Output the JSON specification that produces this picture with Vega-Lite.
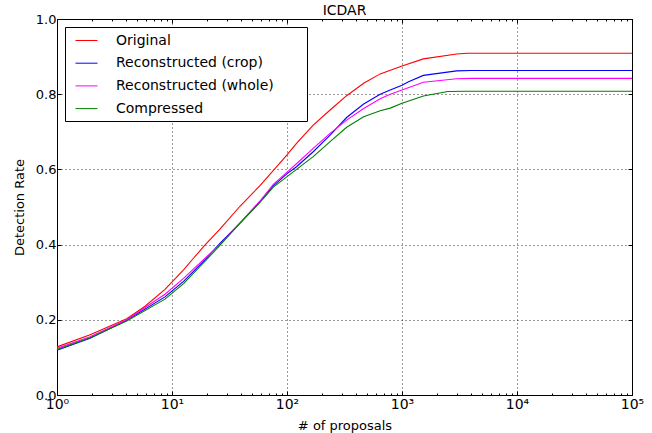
{
  "$schema": "https://vega.github.io/schema/vega-lite/v6.json",
  "width": 575,
  "height": 376,
  "autosize": "none",
  "padding": {"left": 57, "top": 19, "right": 20, "bottom": 38},
  "background": "white",
  "title": {"text": "ICDAR", "fontSize": 14, "font": "DejaVu Sans", "fontWeight": "normal", "color": "black", "offset": -5},
  "config": {
    "font": "DejaVu Sans",
    "view": {"stroke": "black", "strokeWidth": 1},
    "axis": {"domainColor": "black", "tickColor": "black", "labelColor": "black", "titleColor": "black", "labelFont": "DejaVu Sans", "titleFont": "DejaVu Sans", "labelFontSize": 13, "titleFontSize": 13, "titleFontWeight": "normal"}
  },
  "datasets": {
    "curves": [
      {"n": 1, "rate": 0.128, "method": "Original"},
      {"n": 1.94, "rate": 0.160, "method": "Original"},
      {"n": 4.04, "rate": 0.203, "method": "Original"},
      {"n": 5.83, "rate": 0.236, "method": "Original"},
      {"n": 8.69, "rate": 0.281, "method": "Original"},
      {"n": 12.6, "rate": 0.333, "method": "Original"},
      {"n": 15.3, "rate": 0.363, "method": "Original"},
      {"n": 19.4, "rate": 0.399, "method": "Original"},
      {"n": 26.1, "rate": 0.441, "method": "Original"},
      {"n": 39, "rate": 0.502, "method": "Original"},
      {"n": 58.2, "rate": 0.557, "method": "Original"},
      {"n": 78.6, "rate": 0.602, "method": "Original"},
      {"n": 99.6, "rate": 0.638, "method": "Original"},
      {"n": 121, "rate": 0.669, "method": "Original"},
      {"n": 169, "rate": 0.718, "method": "Original"},
      {"n": 237, "rate": 0.758, "method": "Original"},
      {"n": 330, "rate": 0.796, "method": "Original"},
      {"n": 464, "rate": 0.829, "method": "Original"},
      {"n": 646, "rate": 0.854, "method": "Original"},
      {"n": 1000, "rate": 0.875, "method": "Original"},
      {"n": 1535, "rate": 0.894, "method": "Original"},
      {"n": 2990, "rate": 0.907, "method": "Original"},
      {"n": 3690, "rate": 0.909, "method": "Original"},
      {"n": 100000, "rate": 0.909, "method": "Original"},

      {"n": 1, "rate": 0.119, "method": "Reconstructed (crop)"},
      {"n": 1.94, "rate": 0.151, "method": "Reconstructed (crop)"},
      {"n": 4.04, "rate": 0.199, "method": "Reconstructed (crop)"},
      {"n": 8.69, "rate": 0.261, "method": "Reconstructed (crop)"},
      {"n": 12.6, "rate": 0.302, "method": "Reconstructed (crop)"},
      {"n": 19.4, "rate": 0.360, "method": "Reconstructed (crop)"},
      {"n": 26.1, "rate": 0.403, "method": "Reconstructed (crop)"},
      {"n": 39, "rate": 0.457, "method": "Reconstructed (crop)"},
      {"n": 58.2, "rate": 0.514, "method": "Reconstructed (crop)"},
      {"n": 76, "rate": 0.556, "method": "Reconstructed (crop)"},
      {"n": 99.6, "rate": 0.588, "method": "Reconstructed (crop)"},
      {"n": 121, "rate": 0.607, "method": "Reconstructed (crop)"},
      {"n": 169, "rate": 0.647, "method": "Reconstructed (crop)"},
      {"n": 237, "rate": 0.691, "method": "Reconstructed (crop)"},
      {"n": 330, "rate": 0.738, "method": "Reconstructed (crop)"},
      {"n": 464, "rate": 0.774, "method": "Reconstructed (crop)"},
      {"n": 646, "rate": 0.800, "method": "Reconstructed (crop)"},
      {"n": 790, "rate": 0.811, "method": "Reconstructed (crop)"},
      {"n": 1000, "rate": 0.824, "method": "Reconstructed (crop)"},
      {"n": 1140, "rate": 0.833, "method": "Reconstructed (crop)"},
      {"n": 1535, "rate": 0.850, "method": "Reconstructed (crop)"},
      {"n": 2990, "rate": 0.862, "method": "Reconstructed (crop)"},
      {"n": 4000, "rate": 0.863, "method": "Reconstructed (crop)"},
      {"n": 100000, "rate": 0.863, "method": "Reconstructed (crop)"},

      {"n": 1, "rate": 0.124, "method": "Reconstructed (whole)"},
      {"n": 1.94, "rate": 0.155, "method": "Reconstructed (whole)"},
      {"n": 4.04, "rate": 0.200, "method": "Reconstructed (whole)"},
      {"n": 8.69, "rate": 0.268, "method": "Reconstructed (whole)"},
      {"n": 12.6, "rate": 0.310, "method": "Reconstructed (whole)"},
      {"n": 19.4, "rate": 0.364, "method": "Reconstructed (whole)"},
      {"n": 26.1, "rate": 0.400, "method": "Reconstructed (whole)"},
      {"n": 39, "rate": 0.457, "method": "Reconstructed (whole)"},
      {"n": 58.2, "rate": 0.516, "method": "Reconstructed (whole)"},
      {"n": 76, "rate": 0.560, "method": "Reconstructed (whole)"},
      {"n": 99.6, "rate": 0.592, "method": "Reconstructed (whole)"},
      {"n": 121, "rate": 0.615, "method": "Reconstructed (whole)"},
      {"n": 169, "rate": 0.656, "method": "Reconstructed (whole)"},
      {"n": 237, "rate": 0.696, "method": "Reconstructed (whole)"},
      {"n": 330, "rate": 0.731, "method": "Reconstructed (whole)"},
      {"n": 464, "rate": 0.762, "method": "Reconstructed (whole)"},
      {"n": 646, "rate": 0.788, "method": "Reconstructed (whole)"},
      {"n": 790, "rate": 0.800, "method": "Reconstructed (whole)"},
      {"n": 1000, "rate": 0.811, "method": "Reconstructed (whole)"},
      {"n": 1535, "rate": 0.832, "method": "Reconstructed (whole)"},
      {"n": 2990, "rate": 0.841, "method": "Reconstructed (whole)"},
      {"n": 4000, "rate": 0.842, "method": "Reconstructed (whole)"},
      {"n": 100000, "rate": 0.842, "method": "Reconstructed (whole)"},

      {"n": 1, "rate": 0.121, "method": "Compressed"},
      {"n": 1.94, "rate": 0.152, "method": "Compressed"},
      {"n": 4.04, "rate": 0.197, "method": "Compressed"},
      {"n": 8.69, "rate": 0.255, "method": "Compressed"},
      {"n": 12.6, "rate": 0.296, "method": "Compressed"},
      {"n": 19.4, "rate": 0.356, "method": "Compressed"},
      {"n": 26.1, "rate": 0.398, "method": "Compressed"},
      {"n": 39, "rate": 0.457, "method": "Compressed"},
      {"n": 58.2, "rate": 0.512, "method": "Compressed"},
      {"n": 76, "rate": 0.553, "method": "Compressed"},
      {"n": 99.6, "rate": 0.580, "method": "Compressed"},
      {"n": 121, "rate": 0.600, "method": "Compressed"},
      {"n": 169, "rate": 0.634, "method": "Compressed"},
      {"n": 237, "rate": 0.674, "method": "Compressed"},
      {"n": 330, "rate": 0.712, "method": "Compressed"},
      {"n": 464, "rate": 0.740, "method": "Compressed"},
      {"n": 646, "rate": 0.756, "method": "Compressed"},
      {"n": 790, "rate": 0.763, "method": "Compressed"},
      {"n": 1000, "rate": 0.776, "method": "Compressed"},
      {"n": 1535, "rate": 0.795, "method": "Compressed"},
      {"n": 2500, "rate": 0.807, "method": "Compressed"},
      {"n": 3500, "rate": 0.808, "method": "Compressed"},
      {"n": 100000, "rate": 0.808, "method": "Compressed"}
    ]
  },
  "data": {"name": "curves"},
  "layer": [
    {
      "mark": {"type": "line", "strokeWidth": 1.1},
      "encoding": {
        "x": {
          "field": "n", "type": "quantitative",
          "scale": {"type": "log", "domain": [1, 100000], "nice": false},
          "axis": {
            "orient": "bottom",
            "title": "# of proposals",
            "titlePadding": 6,
            "values": [1,2,3,4,5,6,7,8,9,10,20,30,40,50,60,70,80,90,100,200,300,400,500,600,700,800,900,1000,2000,3000,4000,5000,6000,7000,8000,9000,10000,20000,30000,40000,50000,60000,70000,80000,90000,100000],
            "labelExpr": "indexof([1,10,100,1000,10000,100000], datum.value) >= 0 ? ['10⁰','10¹','10²','10³','10⁴','10⁵'][indexof([1,10,100,1000,10000,100000], datum.value)] : ''",
            "labelOverlap": false,
            "labelFlush": false,
            "labelPadding": 6,
            "labelFontSize": 14,
            "tickSize": {"condition": {"test": "indexof([1,10,100,1000,10000,100000], datum.value) >= 0", "value": -4}, "value": -2},
            "grid": true,
            "gridColor": "black",
            "gridDash": [1, 3],
            "gridOpacity": {"condition": {"test": "indexof([10,100,1000,10000], datum.value) >= 0", "value": 0.8}, "value": 0}
          }
        },
        "y": {
          "field": "rate", "type": "quantitative",
          "scale": {"domain": [0, 1], "nice": false},
          "axis": {
            "orient": "left",
            "title": "Detection Rate",
            "titlePadding": 9,
            "values": [0, 0.2, 0.4, 0.6, 0.8, 1.0],
            "format": ".1f",
            "labelFlush": false,
            "labelPadding": 5,
            "tickSize": -4,
            "grid": true,
            "gridColor": "black",
            "gridDash": [1, 3],
            "gridOpacity": 0.8
          }
        },
        "color": {
          "field": "method", "type": "nominal",
          "scale": {
            "domain": ["Original", "Reconstructed (crop)", "Reconstructed (whole)", "Compressed"],
            "range": ["#ff0000", "#0000ff", "#ff00ff", "#008000"]
          },
          "legend": {
            "orient": "none",
            "legendX": 8,
            "legendY": 8,
            "title": ".",
            "titleOrient": "right",
            "titleOpacity": 0,
            "titleFontSize": 14,
            "titlePadding": 22,
            "symbolType": "M-0.375,0H2.375",
            "symbolSize": 256,
            "symbolStrokeWidth": 1,
            "symbolFillColor": "transparent",
            "labelFontSize": 14,
            "labelFont": "DejaVu Sans",
            "labelColor": "black",
            "labelOffset": 29,
            "labelLimit": 0,
            "strokeColor": "black",
            "fillColor": "white",
            "padding": 5,
            "rowPadding": 6.7
          }
        }
      }
    },
    {
      "mark": {"type": "line", "opacity": 0},
      "encoding": {
        "x": {
          "field": "n", "type": "quantitative",
          "scale": {"type": "log", "domain": [1, 100000], "nice": false},
          "axis": {
            "orient": "top",
            "title": null,
            "labels": false,
            "grid": false,
            "values": [1,2,3,4,5,6,7,8,9,10,20,30,40,50,60,70,80,90,100,200,300,400,500,600,700,800,900,1000,2000,3000,4000,5000,6000,7000,8000,9000,10000,20000,30000,40000,50000,60000,70000,80000,90000,100000],
            "tickSize": {"condition": {"test": "indexof([1,10,100,1000,10000,100000], datum.value) >= 0", "value": -4}, "value": -2}
          }
        },
        "y": {
          "field": "rate", "type": "quantitative",
          "scale": {"domain": [0, 1], "nice": false},
          "axis": {
            "orient": "right",
            "title": null,
            "labels": false,
            "grid": false,
            "values": [0, 0.2, 0.4, 0.6, 0.8, 1.0],
            "tickSize": -4
          }
        },
        "detail": {"field": "method"}
      }
    }
  ],
  "resolve": {"axis": {"x": "independent", "y": "independent"}}
}
